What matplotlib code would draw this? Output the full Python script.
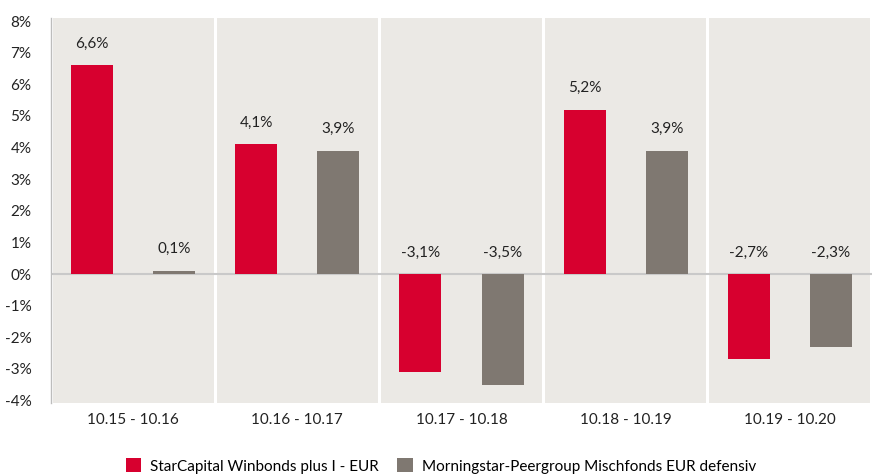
import numpy as np
from matplotlib import pyplot as plt

periods = ["10.15 - 10.16", "10.16 - 10.17", "10.17 - 10.18", "10.18 - 10.19", "10.19 - 10.20"]
fund = [6.6, 4.1, -3.1, 5.2, -2.7]
peer = [0.1, 3.9, -3.5, 3.9, -2.3]
series_names = ["StarCapital Winbonds plus I - EUR", "Morningstar-Peergroup Mischfonds EUR defensiv"]
y_ticks = [-4, -3, -2, -1, 0, 1, 2, 3, 4, 5, 6, 7, 8]

RED = "#D7002F"
GREY = "#7F7871"
PANEL = "#EBE9E5"

plt.rcParams['font.family'] = ['Lato', 'DejaVu Sans']

fig = plt.figure(figsize=(8.82, 4.75), dpi=100)
ax = fig.add_axes([51 / 882, 1 - 403 / 475, 821 / 882, 385 / 475])
ax.set_facecolor("white")

x = np.arange(len(periods))
for i in x:
    ax.axvspan(i - 0.5 + 0.01, i + 0.5 - 0.01, color=PANEL, zorder=0, lw=0)

ax.axhline(0, color="#C9C9C9", lw=1.5, zorder=1)

w = 0.256
off = 0.25
b1 = ax.bar(x - off, fund, w, color=RED, zorder=2, label=series_names[0])
b2 = ax.bar(x + off, peer, w, color=GREY, zorder=2, label=series_names[1])

def fmt(v):
    return f"{v:.1f}%".replace(".", ",")

for xs, vals in ((x - off, fund), (x + off, peer)):
    for xi, v in zip(xs, vals):
        ax.text(xi, max(v, 0) + 0.68, fmt(v), ha="center", va="center",
                fontsize=11, color="#222222", zorder=3)

ax.set_xlim(-0.5, 4.5)
ax.set_ylim(-4.08, 8.1)
ax.set_yticks(y_ticks)
ax.set_yticklabels([f"{t}%" for t in y_ticks])
ax.set_xticks(x)
ax.set_xticklabels(periods)
ax.tick_params(axis="both", length=0, labelsize=11, colors="#222222")
ax.tick_params(axis="y", pad=14)
ax.tick_params(axis="x", pad=7)

for s in ("top", "right", "bottom"):
    ax.spines[s].set_visible(False)
ax.spines["left"].set_color("#BDBDBD")
ax.spines["left"].set_linewidth(1)

fig.legend(handles=[b1, b2], loc="center", bbox_to_anchor=(0.5, 1 - 466 / 475),
           ncol=2, frameon=False, fontsize=11, handlelength=1.0, handleheight=1.0,
           handletextpad=0.6, columnspacing=1.2)

plt.savefig("out.png", dpi=100)
